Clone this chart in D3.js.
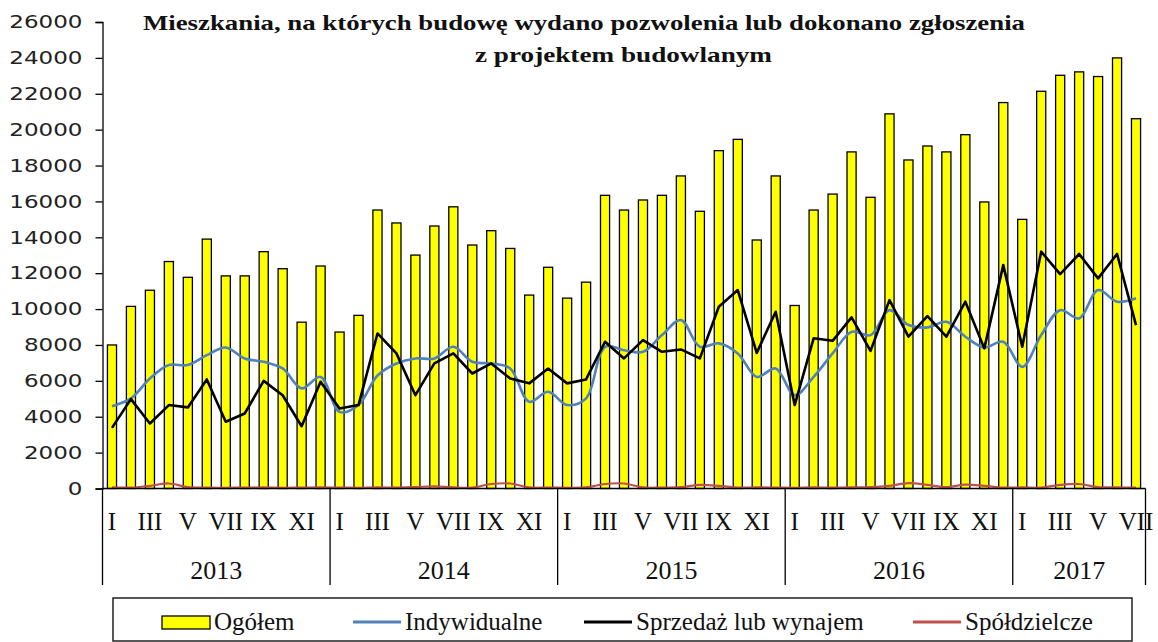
<!DOCTYPE html>
<html>
<head>
<meta charset="utf-8">
<script src="https://cdn.jsdelivr.net/npm/d3@7.9.0/dist/d3.min.js"></script>
<style>
  body { margin: 0; background: #fff; }
  svg { display: block; }
</style>
</head>
<body>
<div id="chart"></div>
<script>
// months I..XII, years on the axis
const romans = ['I','II','III','IV','V','VI','VII','VIII','IX','X','XI','XII'];
const years = [2013, 2014, 2015, 2016, 2017];
const monthsInYear = [12, 12, 12, 12, 7];

// Ogółem (bars)
const ogolem = [
  8000, 10150, 11050, 12650, 11770, 13900, 11850, 11850, 13200, 12250, 9270, 12400,
  8720, 9650, 15520, 14800, 13010, 14630, 15700, 13570, 14370, 13380, 10780, 12330,
  10610, 11500, 16340, 15520, 16080, 16340, 17420, 15450, 18830, 19460, 13850, 17420,
  10200, 15520, 16410, 18760, 16230, 20880, 18310, 19090, 18760, 19720, 15970, 21510,
  15000, 22140, 23030, 23220, 22960, 24000, 20610
];

// Indywidualne
const indywidualne = [
  4590, 5020, 6130, 6880, 6880, 7430, 7860, 7250, 7060, 6690, 5580, 6220,
  4270, 4650, 6300, 6970, 7250, 7250, 7900, 7060, 6970, 6690, 4830, 5390,
  4650, 5020, 7900, 7710, 7620, 8550, 9390, 7900, 8090, 7530, 6220, 6690,
  5200, 6220, 7530, 8730, 8550, 9940, 9110, 8980, 9290, 8460, 7860, 8180,
  6780, 8550, 9940, 9480, 11060, 10410, 10600
];

// Sprzedaż lub wynajem
const sprzedaz = [
  3380, 4980, 3620, 4650, 4520, 6080, 3720, 4180, 6000, 5200, 3470, 5950,
  4460, 4650, 8640, 7530, 5200, 6970, 7530, 6410, 6970, 6130, 5860, 6690,
  5860, 6080, 8180, 7250, 8270, 7620, 7750, 7250, 10130, 11060, 7560, 9850,
  4650, 8370, 8230, 9540, 7670, 10500, 8460, 9610, 8460, 10410, 7810, 12450,
  7900, 13200, 11950, 13070, 11710, 13070, 9110
];

// Spółdzielcze
const spoldzielcze = [
  60, 50, 150, 280, 80, 50, 40, 50, 60, 40, 50, 60,
  50, 40, 60, 50, 80, 120, 60, 50, 250, 280, 60, 50,
  40, 60, 250, 280, 60, 50, 80, 200, 150, 50, 60, 50,
  40, 60, 50, 60, 80, 150, 300, 200, 80, 220, 150, 50,
  60, 50, 200, 250, 80, 60, 50
];

const yTicks = d3.range(0, 26001, 2000);
const titleLines = [
  'Mieszkania, na których budowę wydano pozwolenia lub dokonano zgłoszenia',
  'z projektem budowlanym'
];
const legendNames = ['Ogółem', 'Indywidualne', 'Sprzedaż lub wynajem', 'Spółdzielcze'];

const width = 1158, height = 642;
const svg = d3.select('#chart').append('svg')
  .attr('width', width).attr('height', height);

// month index -> year/month
const months = [];
years.forEach((y, yi) => {
  for (let m = 0; m < monthsInYear[yi]; m++) months.push({ year: y, m, i: months.length });
});

const x = d3.scaleBand()
  .domain(months.map(d => d.i))
  .range([102.5, 1145.5])
  .paddingInner(0.52)
  .paddingOuter(0.26);
const step = x.step();
const cx = i => x(i) + x.bandwidth() / 2;

const y = d3.scaleLinear().domain([0, 26000]).range([488.5, 22]);

// bars
svg.append('g').selectAll('rect')
  .data(ogolem)
  .join('rect')
  .attr('x', (d, i) => x(i))
  .attr('y', d => y(d))
  .attr('width', x.bandwidth())
  .attr('height', d => y(0) - y(d))
  .attr('fill', '#ffff00')
  .attr('stroke', '#000')
  .attr('stroke-width', 1.3);

// lines
const smooth = d3.line().x((d, i) => cx(i)).y(d => y(d)).curve(d3.curveCatmullRom.alpha(0.5));
const straight = d3.line().x((d, i) => cx(i)).y(d => y(d));

svg.append('path').datum(indywidualne)
  .attr('d', smooth).attr('fill', 'none')
  .attr('stroke', '#4f81bd').attr('stroke-width', 2.6);
svg.append('path').datum(sprzedaz)
  .attr('d', straight).attr('fill', 'none')
  .attr('stroke', '#000').attr('stroke-width', 2.6).attr('stroke-linejoin', 'round');
svg.append('path').datum(spoldzielcze)
  .attr('d', smooth).attr('fill', 'none')
  .attr('stroke', '#c0504d').attr('stroke-width', 2.2);

// y axis
const yAxis = svg.append('g')
  .attr('transform', 'translate(102.5,0)')
  .call(d3.axisLeft(y).tickValues(yTicks).tickSize(7).tickFormat(d => d))
  .call(g => g.select('.domain').attr('stroke', '#000').attr('stroke-width', 1.3));
yAxis.selectAll('.tick line').attr('stroke', '#000').attr('stroke-width', 1.3);
yAxis.selectAll('.tick text')
  .attr('x', -20 / 1.28)
  .attr('transform', 'scale(1.28,1)')
  .attr('font-family', 'DejaVu Sans, Verdana, sans-serif')
  .attr('font-size', 18)
  .attr('fill', '#222');

// x axis line
svg.append('line')
  .attr('x1', 102.5).attr('x2', 1145.5)
  .attr('y1', y(0)).attr('y2', y(0))
  .attr('stroke', '#000').attr('stroke-width', 1.3);

// year separators
let start = 0;
const bounds = [0];
monthsInYear.forEach(n => { start += n; bounds.push(start); });
svg.append('g').selectAll('line')
  .data(bounds)
  .join('line')
  .attr('x1', b => cx(Math.min(b, months.length - 1)) + (b === months.length ? step / 2 : -step / 2))
  .attr('x2', b => cx(Math.min(b, months.length - 1)) + (b === months.length ? step / 2 : -step / 2))
  .attr('y1', y(0)).attr('y2', 585)
  .attr('stroke', '#000').attr('stroke-width', 1.3);

// month labels (every other month)
svg.append('g').selectAll('text')
  .data(months.filter(d => d.m % 2 === 0))
  .join('text')
  .attr('x', d => cx(d.i))
  .attr('y', 530)
  .attr('text-anchor', 'middle')
  .attr('font-family', 'Liberation Serif, Times New Roman, serif')
  .attr('font-size', 25)
  .attr('fill', '#111')
  .text(d => romans[d.m]);

// year labels
svg.append('g').selectAll('text')
  .data(years)
  .join('text')
  .attr('x', (yr, k) => (cx(bounds[k]) - step / 2 + cx(bounds[k + 1] - 1) + step / 2) / 2)
  .attr('y', 579)
  .attr('text-anchor', 'middle')
  .attr('font-family', 'Liberation Serif, Times New Roman, serif')
  .attr('font-size', 26)
  .attr('fill', '#111')
  .text(d => d);

// title
const title = svg.append('g')
  .attr('font-family', 'Liberation Serif, Times New Roman, serif')
  .attr('font-weight', 'bold')
  .attr('font-size', 22)
  .attr('fill', '#111');
title.append('text').attr('x', 143).attr('y', 30)
  .attr('textLength', 882).attr('lengthAdjust', 'spacingAndGlyphs')
  .text(titleLines[0]);
title.append('text').attr('x', 475).attr('y', 62)
  .attr('textLength', 297).attr('lengthAdjust', 'spacingAndGlyphs')
  .text(titleLines[1]);

// legend
const legend = svg.append('g');
legend.append('rect')
  .attr('x', 113).attr('y', 598).attr('width', 1019).attr('height', 43)
  .attr('fill', '#fff').attr('stroke', '#222').attr('stroke-width', 1.5);

const legendX = [162, 353, 584, 913];
const legendColors = [null, '#4f81bd', '#000', '#c0504d'];
legendNames.forEach((name, k) => {
  const gx = legendX[k];
  if (k === 0) {
    legend.append('rect')
      .attr('x', gx).attr('y', 616).attr('width', 48).attr('height', 13)
      .attr('fill', '#ffff00').attr('stroke', '#000').attr('stroke-width', 1.3);
  } else {
    legend.append('line')
      .attr('x1', gx).attr('x2', gx + 48).attr('y1', 622).attr('y2', 622)
      .attr('stroke', legendColors[k]).attr('stroke-width', 3);
  }
  legend.append('text')
    .attr('x', gx + 52).attr('y', 630)
    .attr('font-family', 'Liberation Serif, Times New Roman, serif')
    .attr('font-size', 25)
    .attr('fill', '#111')
    .text(name);
});
</script>
</body>
</html>
